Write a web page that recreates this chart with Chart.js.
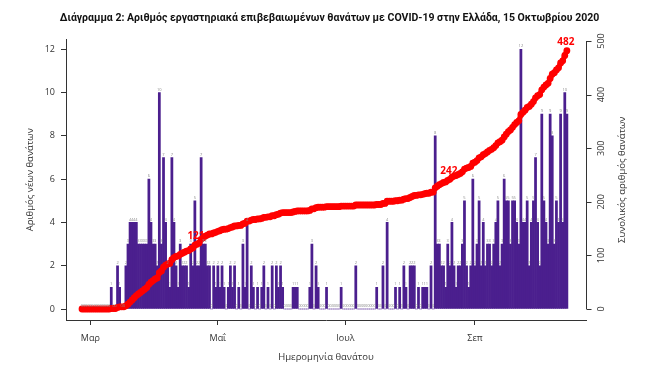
<!DOCTYPE html>
<html lang="el">
<head>
<meta charset="UTF-8" />
<title>Θάνατοι COVID-19 στην Ελλάδα</title>
<script src="https://cdn.jsdelivr.net/npm/chart.js"></script>
<style>
  html, body { margin: 0; padding: 0; background: #fff; }
  #wrap { width: 659px; height: 369px; }
</style>
</head>
<body>
<div id="wrap"><canvas id="deathsChart" width="659" height="369"></canvas></div>

<script>
  // first day of the series, one value per day up to 15 Oct 2020
  const startDate = '2020-02-26';

  const dailyDeaths = [
    0,0,0,0,0,0,0,0,0,0,0,0,0,0,
    1,0,0,2,1,0,0,2,3,4, 4,4,4,3,3,3,3,3,6,4, 3,3,2,10,3,7,4,2,1,7, 4,2,1,3,2,2,2,1,3,2, 5,2,
    2,7,3,3,2,2,0,2,1,2, 1,2,1,0,1,2,1,2,0,1, 0,3,1,4,0,2,1,0,1,0, 1,2,0,1,0,2,0,2,1,
    2,1,0,0,0,0,1,1,1,0, 0,0,0,0,1,3,0,2,1,0, 0,0,1,0,0,0,0,0,0,1, 0,0,0,0,0,0,2,0,0,0, 0,0,0,0,0,0,
    1,0,0,2,0,4,0,0,0,1, 0,1,0,2,1,0,2,2,2,0, 1,0,1,1,1,0,2,0,8,3, 3,2,2,1,3,2,4,2,1,2, 2,3,5,2,1,2,6,
    2,3,5,2,4,2,3,3,2,3, 4,5,2,3,6,5,5,3,5,5, 4,3,12,4,4,5,2,4,5,7, 4,2,9,5,4,3,9,8,3,5, 4,9,4,10,9
  ];

  const monthTickDates = ['2020-03-01', '2020-05-01', '2020-07-01', '2020-09-01'];
  const monthTickLabels = ['Μαρ', 'Μαΐ', 'Ιουλ', 'Σεπ'];
  const leftTicks = [0, 2, 4, 6, 8, 10, 12];
  const rightTicks = [0, 100, 200, 300, 400, 500];
  // days where the running total is written in red
  const milestoneDates = ['2020-04-21', '2020-08-20', '2020-10-15'];

  const BAR_COLOR = '#4b1f8e';
  const LINE_COLOR = '#ff0000';
  const AXIS_COLOR = '#333';
  const FONT = '"Open Sans", sans-serif';

  const dayMs = 86400000;
  const dayIndex = d => Math.round((Date.parse(d) - Date.parse(startDate)) / dayMs);
  const monthTicks = monthTickDates.map(dayIndex);
  const milestones = milestoneDates.map(dayIndex);

  let running = 0;
  const totalDeaths = dailyDeaths.map(v => (running += v));

  const barPoints = dailyDeaths.map((v, i) => ({ x: i, y: v }));
  const linePoints = totalDeaths.map((v, i) => ({ x: i, y: v }));

  const extraDraw = {
    id: 'extraDraw',
    afterDatasetsDraw(chart) {
      const { ctx } = chart;
      const bars = chart.getDatasetMeta(1).data;
      const pts = chart.getDatasetMeta(0).data;

      // tiny value labels above every bar (the zeros make the grey line)
      ctx.save();
      ctx.font = '4px ' + FONT;
      ctx.fillStyle = '#8a8a8a';
      ctx.textAlign = 'center';
      ctx.textBaseline = 'bottom';
      bars.forEach((b, i) => {
        ctx.fillText(String(dailyDeaths[i]), b.x, b.y - 1);
      });

      // red running totals
      ctx.font = 'bold 10px ' + FONT;
      ctx.fillStyle = LINE_COLOR;
      milestones.forEach(i => {
        const p = pts[i];
        ctx.fillText(String(totalDeaths[i]), p.x - 1, p.y - 3);
      });
      ctx.restore();
    },
    afterDraw(chart) {
      const { ctx, chartArea, scales } = chart;
      const y2 = scales.y2;
      const x0 = Math.round(chartArea.right) + 0.5;
      ctx.save();
      ctx.strokeStyle = AXIS_COLOR;
      ctx.lineWidth = 1;
      ctx.beginPath();
      ctx.moveTo(x0, y2.getPixelForValue(0));
      ctx.lineTo(x0, y2.getPixelForValue(500));
      rightTicks.forEach(v => {
        const py = Math.round(y2.getPixelForValue(v)) + 0.5;
        ctx.moveTo(x0, py);
        ctx.lineTo(x0 + 5, py);
      });
      ctx.stroke();

      ctx.fillStyle = AXIS_COLOR;
      ctx.font = '9px ' + FONT;
      ctx.textAlign = 'center';
      ctx.textBaseline = 'middle';
      rightTicks.forEach(v => {
        ctx.save();
        ctx.translate(x0 + 15, y2.getPixelForValue(v));
        ctx.rotate(-Math.PI / 2);
        ctx.fillText(String(v), 0, 0);
        ctx.restore();
      });

      ctx.font = '9.5px ' + FONT;
      ctx.save();
      ctx.translate(622, (chartArea.top + chartArea.bottom) / 2);
      ctx.rotate(-Math.PI / 2);
      ctx.fillText('Συνολικός αριθμός θανάτων', 0, 0);
      ctx.restore();
      ctx.restore();
    }
  };

  const ctx = document.getElementById('deathsChart').getContext('2d');
  new Chart(ctx, {
    type: 'bar',
    data: {
      datasets: [
        {
          type: 'line',
          label: 'Συνολικός αριθμός θανάτων',
          data: linePoints,
          yAxisID: 'y2',
          borderColor: LINE_COLOR,
          borderWidth: 5,
          pointRadius: 3.4,
          pointBackgroundColor: LINE_COLOR,
          pointBorderWidth: 0,
          tension: 0,
          order: 0
        },
        {
          type: 'bar',
          label: 'Αριθμός νέων θανάτων',
          data: barPoints,
          yAxisID: 'y',
          backgroundColor: BAR_COLOR,
          borderWidth: 0,
          barPercentage: 1,
          categoryPercentage: 1,
          order: 1
        }
      ]
    },
    options: {
      responsive: false,
      animation: false,
      layout: { padding: 0 },
      plugins: {
        legend: { display: false },
        tooltip: { enabled: false },
        title: {
          display: true,
          text: 'Διάγραμμα 2: Αριθμός εργαστηριακά επιβεβαιωμένων θανάτων με COVID-19 στην Ελλάδα, 15 Οκτωβρίου 2020',
          color: '#111',
          font: { family: 'Roboto', size: 10.5, weight: 'bold' },
          padding: { top: 12, bottom: 14.9 }
        }
      },
      scales: {
        x: {
          type: 'linear',
          min: -7.66,
          max: 241.15,
          offset: false,
          afterBuildTicks: s => { s.ticks = monthTicks.map(v => ({ value: v })); },
          afterFit: s => { s.height = 49; },
          ticks: {
            autoSkip: false,
            maxRotation: 0,
            padding: 8,
            color: AXIS_COLOR,
            font: { family: FONT, size: 9 },
            callback: v => monthTickLabels[monthTicks.indexOf(v)]
          },
          grid: { drawOnChartArea: false, offset: false, tickLength: 5, tickColor: AXIS_COLOR },
          border: { color: AXIS_COLOR, width: 1 },
          title: {
            display: true,
            text: 'Ημερομηνία θανάτου',
            color: AXIS_COLOR,
            font: { family: FONT, size: 9.5 },
            padding: { top: 0, bottom: 6 }
          }
        },
        y: {
          position: 'left',
          min: -0.508,
          max: 12.45,
          afterBuildTicks: s => { s.ticks = leftTicks.map(v => ({ value: v })); },
          afterFit: s => { s.width = 66; },
          ticks: {
            padding: 6,
            color: AXIS_COLOR,
            font: { family: FONT, size: 9 }
          },
          grid: { drawOnChartArea: false, tickLength: 5, tickColor: AXIS_COLOR },
          border: { color: AXIS_COLOR, width: 1 },
          title: {
            display: true,
            text: 'Αριθμός νέων θανάτων',
            color: AXIS_COLOR,
            font: { family: FONT, size: 9.5 },
            padding: { top: 25, bottom: 0 }
          }
        },
        y2: {
          position: 'right',
          min: -20.5,
          max: 502.8,
          afterFit: s => { s.width = 73; },
          ticks: { display: false },
          grid: { display: false },
          border: { display: false }
        }
      }
    },
    plugins: [extraDraw]
  });
</script>
</body>
</html>
